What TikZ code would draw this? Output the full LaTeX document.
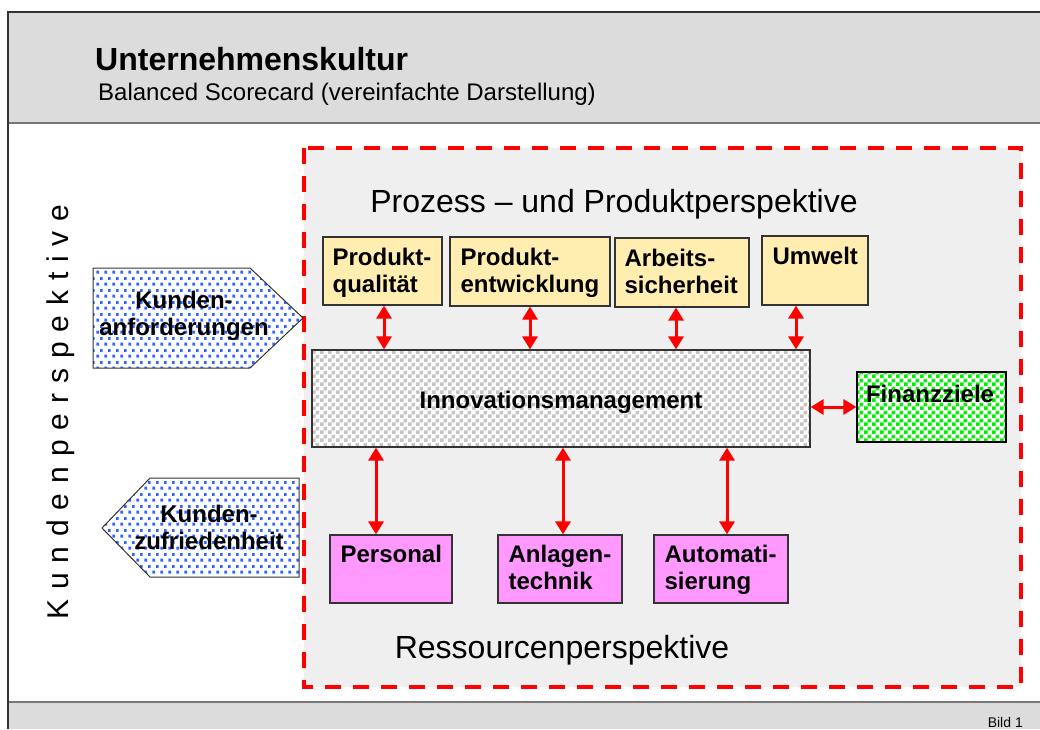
\documentclass[tikz,border=0pt]{standalone}
\usepackage{fontspec}
\setmainfont{Liberation Sans}
\usetikzlibrary{patterns,arrows.meta}
\pgfdeclarepatternformonly{bluedots}{\pgfqpoint{0pt}{0pt}}{\pgfqpoint{8pt}{12pt}}{\pgfqpoint{8pt}{12pt}}{%
  \pgfpathrectangle{\pgfqpoint{0.5pt}{0.5pt}}{\pgfqpoint{3pt}{3pt}}%
  \pgfpathrectangle{\pgfqpoint{4.5pt}{6.5pt}}{\pgfqpoint{3pt}{3pt}}%
  \pgfusepath{fill}}
\pgfdeclarepatternformonly{bigchecker}{\pgfqpoint{0pt}{0pt}}{\pgfqpoint{8pt}{8pt}}{\pgfqpoint{8pt}{8pt}}{%
  \pgfpathrectangle{\pgfqpoint{0pt}{0pt}}{\pgfqpoint{4pt}{4pt}}%
  \pgfpathrectangle{\pgfqpoint{4pt}{4pt}}{\pgfqpoint{4pt}{4pt}}%
  \pgfusepath{fill}}
\definecolor{hdr}{HTML}{DCDCDC}
\definecolor{panel}{HTML}{EFEFEF}
\definecolor{yel}{HTML}{FFEEB0}
\definecolor{mag}{HTML}{FF99FF}
\definecolor{dotblue}{HTML}{3366FF}
\definecolor{chkgray}{HTML}{C4C4C4}
\definecolor{grn}{HTML}{00F000}
\definecolor{edge}{HTML}{333333}
\definecolor{rulegray}{HTML}{777777}
\newcommand\bxfont{\fontsize{24}{27}\selectfont\bfseries}
\newcommand\lsp{\hspace{9.9pt}}
\newcommand\bst{\rule[-5.5pt]{0pt}{27pt}}
\begin{document}
\begin{tikzpicture}[x=1pt,y=-1pt,
  box/.style={draw=edge, line width=1.2pt, inner sep=0pt},
  ybox/.style={box, fill=yel},
  mbox/.style={box, fill=mag},
  btext/.style={font=\bxfont, align=left, inner sep=0pt, anchor=north west},
  biarrow/.style={red, line width=3pt, {Triangle[width=15pt,length=13pt]}-{Triangle[width=15pt,length=13pt]}},
  bigtext/.style={font=\fontsize{32}{36}\selectfont, anchor=base},
  kshape/.style={draw=edge, line width=1pt, preaction={fill=white}, pattern=bluedots, pattern color=dotblue}
]
\useasboundingbox (0,0) rectangle (1040,729);
\fill[white] (0,0) rectangle (1040,729);
% header and footer
\fill[hdr] (8,12) rectangle (1040,123);
\fill[hdr] (8,702) rectangle (1040,729);
\draw[rulegray, line width=2.5pt] (8,123) -- (1040,123);
\draw[rulegray, line width=2.5pt] (8,702) -- (1040,702);
\draw[edge, line width=1.5pt] (8,729) -- (8,12) -- (1040,12);
\node[anchor=base west, font=\fontsize{32}{36}\selectfont\bfseries, inner sep=0pt] (title) at (95,70) {Unternehmenskultur};
\node[anchor=base west, font=\fontsize{24}{28}\selectfont, inner sep=0pt] (subtitle) at (98,100) {Balanced Scorecard (vereinfachte Darstellung)};
\node[anchor=base east, font=\fontsize{14}{16}\selectfont, inner sep=0pt] (bild) at (1023,727) {Bild 1};
% panel
\draw[red, line width=4pt, dash pattern=on 16pt off 12pt, fill=panel] (304,148) rectangle (1021,687);
\node[bigtext] (prozess) at (614,212) {Prozess – und Produktperspektive};
\node[bigtext] (ressourcen) at (562,658) {Ressourcenperspektive};
% customer perspective
\node[rotate=90, anchor=base, font=\fontsize{30}{36}\selectfont, inner sep=0pt] (kp) at (68,412)
  {K\lsp u\lsp n\lsp d\lsp e\lsp n\lsp p\lsp e\lsp r\lsp s\lsp p\lsp e\lsp k\lsp t\lsp i\lsp v\lsp e};
\draw[kshape] (93,268) -- (250,268) -- (303,318) -- (250,368) -- (93,368) -- cycle;
\node[btext, align=center, anchor=north] (kanf) at (184,286.5) {\bst Kunden-\\anforderungen};
\draw[kshape] (150,478) -- (299,478) -- (299,577) -- (150,577) -- (102,528) -- cycle;
\node[btext, align=center, anchor=north] (kzuf) at (209,500.5) {\bst Kunden-\\zufriedenheit};
% process boxes
\node[ybox, minimum width=119pt, minimum height=68pt] (pq) at (382.5,271) {};
\node[btext] (pqt) at ([xshift=10pt,yshift=-7.5pt]pq.north west) {\bst Produkt-\\qualität};
\node[ybox, minimum width=160pt, minimum height=69pt] (pe) at (530,271.5) {};
\node[btext] (pet) at ([xshift=11pt,yshift=-7.5pt]pe.north west) {\bst Produkt-\\entwicklung};
\node[ybox, minimum width=134pt, minimum height=69pt] (ars) at (682,272.5) {};
\node[btext] (arst) at ([xshift=10pt,yshift=-7.5pt]ars.north west) {\bst Arbeits-\\sicherheit};
\node[ybox, minimum width=106pt, minimum height=69pt] (umw) at (815,270.5) {};
\node[btext] (umwt) at ([xshift=11pt,yshift=-7.5pt]umw.north west) {\bst Umwelt};
% innovation management
\node[draw=edge, line width=1.2pt, preaction={fill=white}, pattern=bigchecker, pattern color=chkgray,
  minimum width=498pt, minimum height=97pt] (inno) at (561,398.5) {};
\node[font=\bxfont, anchor=base, inner sep=0pt] (innotext) at (561,408) {Innovationsmanagement};
\node[draw=black, line width=1.2pt, preaction={fill=white}, pattern=bigchecker, pattern color=grn,
  minimum width=149pt, minimum height=70pt] (fin) at (931.5,407) {};
\node[font=\bxfont, anchor=base, inner sep=0pt] (fintext) at (930,402) {Finanzziele};
% resource boxes
\node[mbox, minimum width=122pt, minimum height=68pt] (pers) at (391,569) {};
\node[btext] (perst) at ([xshift=11pt,yshift=-6.5pt]pers.north west) {\bst Personal};
\node[mbox, minimum width=124pt, minimum height=68pt] (anl) at (560,569) {};
\node[btext] (anlt) at ([xshift=11pt,yshift=-6.5pt]anl.north west) {\bst Anlagen-\\technik};
\node[mbox, minimum width=134pt, minimum height=68pt] (aut) at (721,569) {};
\node[btext] (autt) at ([xshift=11pt,yshift=-6.5pt]aut.north west) {\bst Automati-\\sierung};
% arrows
\draw[biarrow] ([xshift=1.5pt]pq.south) -- ([xshift=1.5pt]pq.south |- inno.north);
\draw[biarrow] (pe.south) -- (pe.south |- inno.north);
\draw[biarrow] ([xshift=-6pt]ars.south) -- ([xshift=-6pt]ars.south |- inno.north);
\draw[biarrow] ([xshift=-19pt]umw.south) -- ([xshift=-19pt]umw.south |- inno.north);
\draw[biarrow] (inno.east |- fin.west) -- (fin.west);
\draw[biarrow] ([xshift=-15pt]pers.north |- inno.south) -- ([xshift=-15pt]pers.north);
\draw[biarrow] ([xshift=3pt]anl.north |- inno.south) -- ([xshift=3pt]anl.north);
\draw[biarrow] ([xshift=6pt]aut.north |- inno.south) -- ([xshift=6pt]aut.north);
\end{tikzpicture}
\end{document}
